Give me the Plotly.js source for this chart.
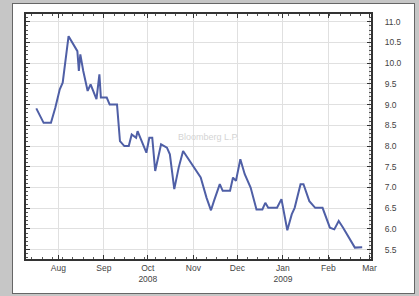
<!DOCTYPE html>
<html>
<head>
<meta charset="utf-8">
<script src="https://cdn.plot.ly/plotly-3.0.1.min.js"></script>
<style>
html,body{margin:0;padding:0;background:#c6c6c6;width:419px;height:296px;overflow:hidden;}
#panel{position:absolute;left:12px;top:3px;width:401px;height:289px;background:#fff;border:1px solid #666;}
#chart{width:401px;height:289px;}
</style>
</head>
<body>
<div id="panel"><div id="chart"></div></div>
<script>
const dates = ['2008-07-17','2008-07-20','2008-07-22','2008-07-27','2008-07-30','2008-08-02','2008-08-04','2008-08-08','2008-08-10','2008-08-13','2008-08-14','2008-08-15','2008-08-16','2008-08-18','2008-08-21','2008-08-23','2008-08-27','2008-08-29','2008-08-30','2008-09-03','2008-09-05','2008-09-10','2008-09-12','2008-09-15','2008-09-18','2008-09-20','2008-09-23','2008-09-24','2008-09-27','2008-09-30','2008-10-02','2008-10-04','2008-10-06','2008-10-08','2008-10-10','2008-10-14','2008-10-16','2008-10-19','2008-10-22','2008-10-25','2008-10-28','2008-11-02','2008-11-06','2008-11-10','2008-11-13','2008-11-15','2008-11-19','2008-11-21','2008-11-26','2008-11-28','2008-11-30','2008-12-03','2008-12-06','2008-12-10','2008-12-14','2008-12-18','2008-12-20','2008-12-22','2008-12-28','2008-12-31','2009-01-04','2009-01-07','2009-01-09','2009-01-13','2009-01-15','2009-01-19','2009-01-23','2009-01-28','2009-02-02','2009-02-05','2009-02-08','2009-02-11','2009-02-16','2009-02-19','2009-02-24'];
const values = [8.91,8.72,8.56,8.56,8.93,9.37,9.53,10.65,10.53,10.37,10.29,9.81,10.21,9.81,9.33,9.49,9.13,9.73,9.17,9.17,9.0,9.0,8.12,8.0,8.0,8.28,8.2,8.36,8.12,7.84,8.2,8.2,7.40,7.72,8.04,7.96,7.8,6.96,7.48,7.88,7.72,7.48,7.24,6.75,6.45,6.67,7.08,6.92,6.92,7.24,7.16,7.68,7.32,7.0,6.47,6.47,6.63,6.51,6.51,6.72,5.97,6.35,6.51,7.08,7.08,6.67,6.51,6.51,6.03,5.99,6.19,6.03,5.75,5.55,5.56];
const xTickVals = ['2008-08-01','2008-09-01','2008-10-01','2008-11-01','2008-12-01','2009-01-01','2009-02-01','2009-03-01'];
const xTickText = ['Aug','Sep','Oct<br>2008','Nov','Dec','Jan<br>2009','Feb','Mar'];
const yTickVals = [5.5,6.0,6.5,7.0,7.5,8.0,8.5,9.0,9.5,10.0,10.5,11.0];
const yTickText = ['5.5','6.0','6.5','7.0','7.5','8.0','8.5','9.0','9.5','10.0','10.5','11.0'];

Plotly.newPlot('chart', [{
  x: dates, y: values, type: 'scatter', mode: 'lines',
  line: {color: '#4f5fa6', width: 2}, hoverinfo: 'skip'
}], {
  width: 401, height: 289,
  margin: {l: 13, r: 43, t: 10, b: 34},
  paper_bgcolor: '#ffffff', plot_bgcolor: '#ffffff',
  showlegend: false,
  font: {family: 'Liberation Sans, Arial, sans-serif', size: 8.5, color: '#444'},
  xaxis: {
    type: 'date', range: ['2008-07-10', '2009-03-02'],
    tickvals: xTickVals, ticktext: xTickText, tickangle: 0,
    showgrid: true, gridcolor: '#e0e0e0', gridwidth: 1,
    showline: true, linecolor: '#333', linewidth: 2, mirror: 'ticks',
    ticks: 'inside', ticklen: 4, tickcolor: '#333',
    minor: {dtick: 7*24*3600*1000, tick0: '2008-07-14', ticks: 'inside', ticklen: 2, tickcolor: '#555', showgrid: false},
    zeroline: false, fixedrange: true
  },
  yaxis: {
    side: 'right', range: [5.275, 11.186],
    tickvals: yTickVals, ticktext: yTickText,
    showgrid: true, gridcolor: '#e0e0e0', gridwidth: 1,
    showline: true, linecolor: '#333', linewidth: 2, mirror: 'ticks',
    ticks: 'inside', ticklen: 4, tickcolor: '#333',
    ticklabelstandoff: 10,
    minor: {dtick: 0.1, ticks: 'inside', ticklen: 2, tickcolor: '#555', showgrid: false},
    zeroline: false, fixedrange: true
  },
  annotations: [{
    xref: 'paper', yref: 'paper', x: 0.53, y: 0.5, showarrow: false,
    text: 'Bloomberg L.P.', font: {size: 9, color: '#d4d4d4'}
  }]
}, {displayModeBar: false, staticPlot: true});
</script>
</body>
</html>
